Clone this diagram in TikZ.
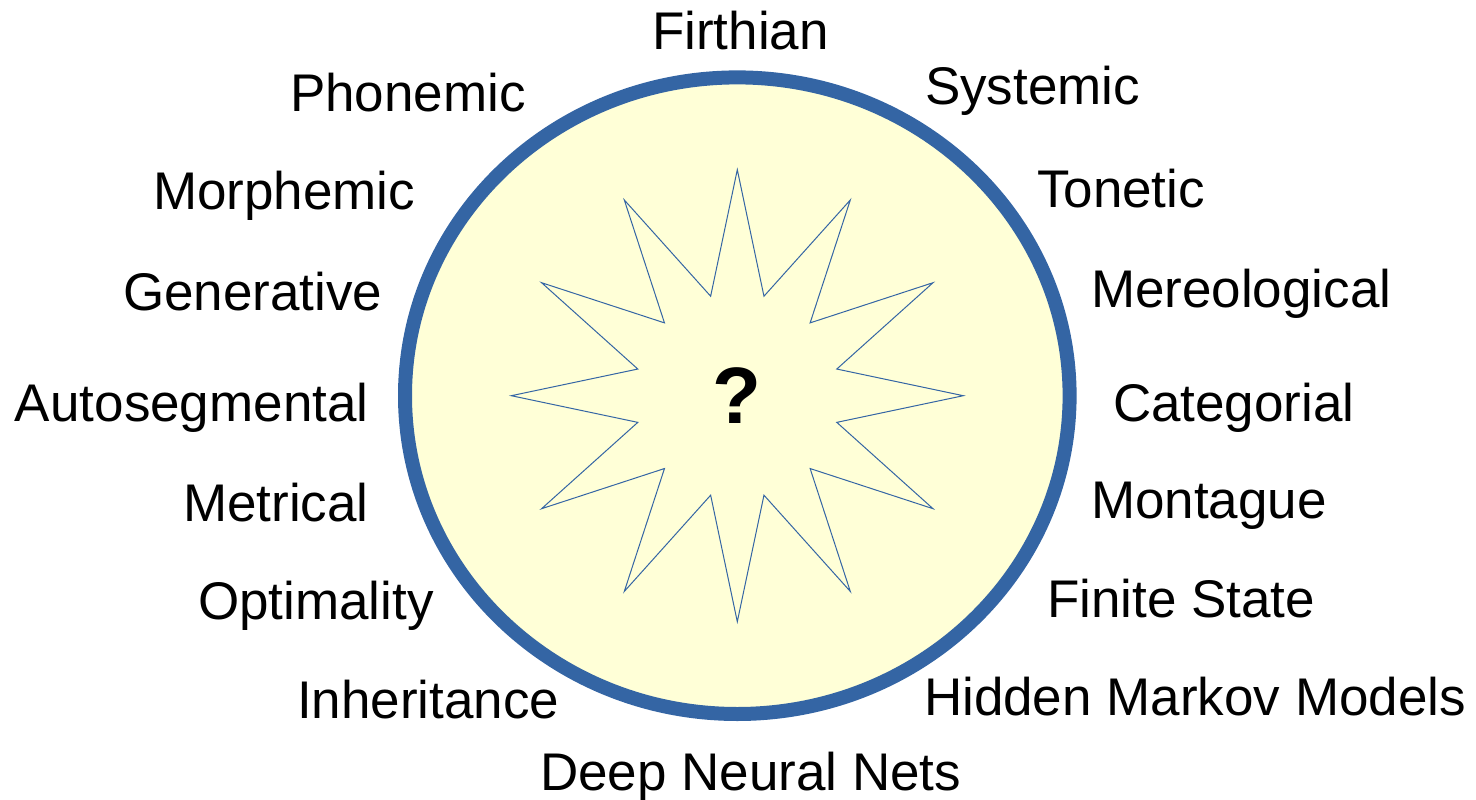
\documentclass[tikz,border=0pt]{standalone}
\usepackage{fontspec}
\setmainfont{Liberation Sans}
\definecolor{ringblue}{HTML}{3465A4}
\definecolor{paleyellow}{HTML}{FFFFD7}
\begin{document}
\begin{tikzpicture}[x=1pt,y=-1pt,
  lbl/.style={inner sep=0pt,outer sep=0pt,anchor=base west,font=\fontsize{53}{60}\selectfont},
  ring/.style={draw=ringblue,line width=14pt,fill=paleyellow},
  starline/.style={draw=ringblue,line width=1pt,line join=miter}]
\useasboundingbox (0,0) rectangle (1476,800);
\coordinate (c) at (737.3,395.7);
\draw[ring] (c) ellipse [x radius=332.3, y radius=318.3];
\draw[starline] (c) +(90:226) \foreach \i in {0,...,11}{ -- +({105+30*\i}:103) -- +({120+30*\i}:226)} -- cycle;
\node[inner sep=0pt,anchor=base,font=\bfseries\fontsize{80}{90}\selectfont] (q) at (737,423) {?};
% top / bottom
\node[lbl] (firthian) at (652,50) {Firthian};
\node[lbl] (deep) at (540,790) {Deep Neural Nets};
% left column
\node[lbl] (phonemic) at (290,111) {Phonemic};
\node[lbl] (morphemic) at (153,209) {Morphemic};
\node[lbl] (generative) at (123,310) {Generative};
\node[lbl] (autoseg) at (15,421.5) {Autosegmental};
\node[lbl] (metrical) at (183,521) {Metrical};
\node[lbl] (optimality) at (198,619) {Optimality};
\node[lbl] (inherit) at (297,718) {Inheritance};
% right column
\node[lbl] (systemic) at (925,105) {Systemic};
\node[lbl] (tonetic) at (1037,207) {Tonetic};
\node[lbl] (mereo) at (1091,307) {Mereological};
\node[lbl] (categorial) at (1113,421) {Categorial};
\node[lbl] (montague) at (1091,518) {Montague};
\node[lbl] (finite) at (1047,617) {Finite State};
\node[lbl] (hmm) at (924,715) {Hidden Markov Models};
\end{tikzpicture}
\end{document}
